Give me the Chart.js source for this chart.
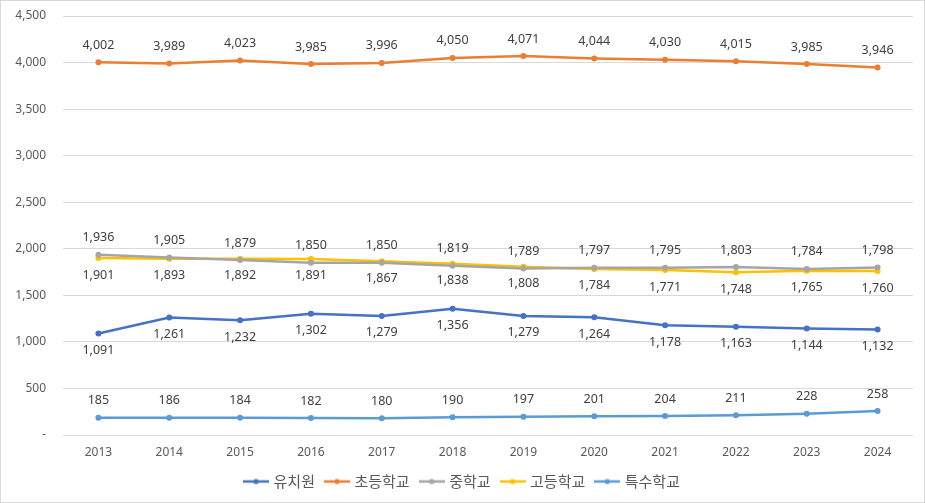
<!DOCTYPE html>
<html><head><meta charset="utf-8">
<script src="https://cdn.jsdelivr.net/npm/chart.js@4.4.1/dist/chart.umd.min.js"></script>
<style>
html,body{margin:0;padding:0;background:#fff;}
#wrap{position:absolute;left:0;top:0;width:923px;height:501px;border:1px solid #d9d9d9;}
canvas{display:block;}
</style></head>
<body><div id="wrap"><canvas id="c" width="923" height="501"></canvas></div>
<script>
const years = ['2013','2014','2015','2016','2017','2018','2019','2020','2021','2022','2023','2024'];
const kindergarten = [1091,1261,1232,1302,1279,1356,1279,1264,1178,1163,1144,1132];
const elementary = [4002,3989,4023,3985,3996,4050,4071,4044,4030,4015,3985,3946];
const middle = [1936,1905,1879,1850,1850,1819,1789,1797,1795,1803,1784,1798];
const high = [1901,1893,1892,1891,1867,1838,1808,1784,1771,1748,1765,1760];
const special = [185,186,184,182,180,190,197,201,204,211,228,258];
const seriesNames = ['유치원','초등학교','중학교','고등학교','특수학교'];
const seriesColors = ['#4472C4','#ED7D31','#A5A5A5','#FFC000','#5B9BD5'];
const labelPos = ['below','above','above','below','above'];
const yTicks = [0,500,1000,1500,2000,2500,3000,3500,4000,4500];

function legendIcon(color){
  const c=document.createElement('canvas'); c.width=26; c.height=8;
  const x=c.getContext('2d');
  x.strokeStyle=color; x.lineWidth=2.5; x.beginPath(); x.moveTo(0,4); x.lineTo(26,4); x.stroke();
  x.fillStyle=color; x.beginPath(); x.arc(13,4,2.6,0,Math.PI*2); x.fill();
  return c;
}
const fmt = v => v.toLocaleString('en-US');
const allData=[kindergarten,elementary,middle,high,special];
const datasets = allData.map((d,i)=>({
  label: seriesNames[i], data: d, borderColor: seriesColors[i], backgroundColor: seriesColors[i],
  borderWidth: 2.5, pointRadius: 3, pointHoverRadius: 3, pointBackgroundColor: seriesColors[i],
  pointBorderWidth: 0, tension: 0, pointStyle: 'circle', labelPos: labelPos[i]
}));

const dataLabels = {
  id:'dataLabels',
  afterDatasetsDraw(chart){
    const ctx=chart.ctx;
    ctx.save();
    ctx.font='12.5px "Noto Sans", sans-serif';
    ctx.fillStyle='#404040';
    ctx.textAlign='center'; ctx.textBaseline='middle';
    chart.data.datasets.forEach((ds,i)=>{
      const meta=chart.getDatasetMeta(i);
      meta.data.forEach((pt,j)=>{
        const dy = ds.labelPos==='above' ? -17 : 17;
        ctx.fillText(fmt(ds.data[j]), pt.x, pt.y+dy);
      });
    });
    ctx.restore();
  }
};

new Chart(document.getElementById('c'),{
  type:'line',
  data:{labels:years, datasets},
  plugins:[dataLabels],
  options:{
    responsive:false, animation:false,
    layout:{autoPadding:false, padding:{left:12,right:11,top:15,bottom:3}},
    plugins:{
      tooltip:{enabled:false},
      legend:{position:'bottom',
        labels:{usePointStyle:true, pointStyleWidth:20, boxHeight:8, padding:12,
          color:'#595959', font:{family:'"Noto Sans CJK KR", sans-serif', size:15},
          generateLabels(chart){
            return chart.data.datasets.map((ds,i)=>({text:ds.label, pointStyle:legendIcon(seriesColors[i]),
              fillStyle:seriesColors[i], strokeStyle:seriesColors[i], lineWidth:0, fontColor:'#595959', datasetIndex:i, hidden:false}));
          }}}
    },
    scales:{
      x:{offset:true, grid:{display:false}, border:{display:false}, afterFit(s){s.height=27;},
        ticks:{color:'#595959', font:{family:'"Noto Sans", sans-serif', size:12}, padding:2}},
      y:{min:0,max:4500, afterFit(s){s.width=50;},
        afterBuildTicks(s){ s.ticks = yTicks.map(v=>({value:v})); },
        grid:{color:'#d9d9d9', lineWidth:1, drawTicks:true, tickLength:17, tickColor:'rgba(0,0,0,0)'}, border:{display:false},
        ticks:{color:'#595959', font:{family:'"Noto Sans", sans-serif', size:12}, padding:0,
          callback:v=> v===0 ? '-' : fmt(v)}}
    }
  }
});
</script></body></html>
